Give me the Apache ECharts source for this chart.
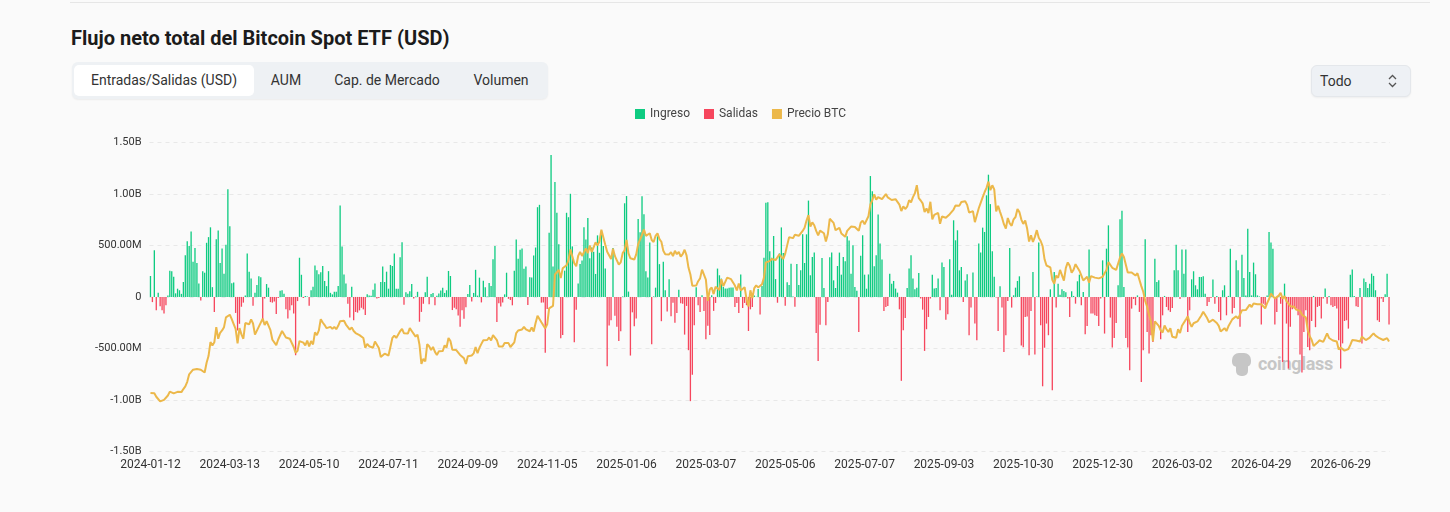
<!DOCTYPE html>
<html>
<head>
<meta charset="utf-8">
<script src="https://cdn.jsdelivr.net/npm/echarts@6/dist/echarts.min.js"></script>
<style>
  html, body { margin: 0; padding: 0; background: #fafafa; }
  body { width: 1450px; height: 512px; position: relative; overflow: hidden; font-family: Roboto, "Noto Sans", sans-serif; color: #222; }
  .topline { position: absolute; left: 70px; top: 2px; width: 1360px; height: 1px; background: #e6e6e6; }
  .title { position: absolute; left: 71px; top: 25px; font-size: 20px; line-height: 26px; font-weight: 700; color: #1b1b1b; }
  .tabs { position: absolute; left: 72px; top: 62px; width: 476px; height: 37px; background: #eef1f4; border-radius: 6px; box-shadow: 0 1px 2px rgba(0,0,0,0.06); }
  .tab-on { position: absolute; left: 2px; top: 3px; width: 180px; height: 31px; background: #fff; border-radius: 5px; }
  .tab { position: absolute; top: 0; line-height: 37px; font-size: 14px; color: #333; transform: translateX(-50%); white-space: nowrap; }
  .select { position: absolute; left: 1311px; top: 65px; width: 98px; height: 30px; background: #eef1f5; border: 1px solid #e4e7eb; border-radius: 6px; box-shadow: 0 1px 2px rgba(0,0,0,0.05); }
  .select span { position: absolute; left: 8px; top: 0; line-height: 30px; font-size: 14px; color: #333; }
  .select svg { position: absolute; right: 13px; top: 8px; }
  .mark { position: absolute; left: 1231px; top: 351px; color: #c6c6c6; font-weight: 700; font-size: 18px; line-height: 26px; letter-spacing: -0.3px; }
  .mark b { display: inline-block; position: relative; width: 21px; height: 26px; vertical-align: -7px; margin-right: 6px; }
  .mark b:before { content: ""; position: absolute; left: 1px; top: 2px; width: 19px; height: 14px; background: #c6c6c6; border-radius: 7px 7px 5px 5px; }
  .mark b:after { content: ""; position: absolute; left: 5px; top: 13px; width: 12px; height: 12px; background: #c6c6c6; border-radius: 3px 3px 5px 5px; }
  #chart { position: absolute; left: 0; top: 0; width: 1450px; height: 512px; }
</style>
</head>
<body>
<div class="topline"></div>
<div class="title">Flujo neto total del Bitcoin Spot ETF (USD)</div>
<div class="tabs">
  <div class="tab-on"></div>
  <div class="tab" style="left:92px">Entradas/Salidas (USD)</div>
  <div class="tab" style="left:214px">AUM</div>
  <div class="tab" style="left:315px">Cap. de Mercado</div>
  <div class="tab" style="left:429px">Volumen</div>
</div>
<div class="select"><span>Todo</span>
  <svg width="9" height="14" viewBox="0 0 9 14"><path d="M1 5 L4.5 1.5 L8 5 M1 9 L4.5 12.5 L8 9" fill="none" stroke="#555" stroke-width="1.3"/></svg>
</div>
<div class="mark"><b></b>coinglass</div>
<div id="chart"></div>
<script>
// trading days start here, US market holidays are skipped
var firstDay = "2024-01-12";
var holidays = [
  "2024-01-15", "2024-02-19", "2024-03-29", "2024-05-27", "2024-06-19", "2024-07-04",
  "2024-09-02", "2024-11-28", "2024-12-25", "2025-01-01", "2025-01-09", "2025-01-20",
  "2025-02-17", "2025-04-18", "2025-05-26", "2025-06-19", "2025-07-04", "2025-09-01",
  "2025-11-27", "2025-12-25", "2026-01-01", "2026-01-19", "2026-02-16", "2026-04-03",
  "2026-05-25", "2026-06-19", "2026-07-03"
];

// daily net flow, millions of USD
var netFlowM = [
  203, -50, 452, -130, 40, -90, -130, -160, -80, 15,
  255, 250, 195, 35, 80, 65, 30, 145, 405, 540,
  495, 635, 340, 475, 330, 130, -35, 250, 235, 525,
  580, 675, 95, -145, 560, 645, 330, 470, 225, 505,
  1045, 685, 132, 140, -155, -325, -260, -95, -55, 15,
  420, 245, 180, -85, 40, 115, 200, 190, -215, -15,
  125, 90, -50, -55, -45, -165, -10, 60, 65, 30,
  -120, -210, -130, -80, -160, -565, -40, 380, 215, -10,
  10, 5, -85, 65, 100, 305, 260, 220, 240, 300,
  155, 105, 250, 40, 25, 50, 50, 105, 887, 490,
  217, 130, -65, -200, 100, -226, -146, -152, -130, -105,
  -120, -175, 25, 15, 12, 70, 130, -15, -10, 145,
  295, 145, 245, 80, 310, 300, 420, 80, 80, 385,
  530, -75, 45, 30, 55, 125, -15, 5, 50, -240,
  -145, -65, 45, 195, -70, 28, 39, -81, 11, 33,
  62, 88, 39, 65, 252, 203, -127, -105, -120, -180,
  -288, -130, -211, -100, 29, 117, -44, 39, 263, 13,
  187, -53, 158, 93, 5, 136, 106, 365, 494, -242,
  -61, -92, -54, 25, 235, -18, -30, -81, 253, 556,
  371, 458, 470, 274, 294, -79, 192, 188, 402, 479,
  870, 893, -55, -55, -541, -117, 622, 1376, 294, 1114,
  817, 510, -401, -370, 255, 816, 773, 1000, 490, -438,
  -123, 130, 320, 353, 676, 556, 766, 375, 479, 438,
  223, 597, 428, 637, 493, 275, -672, -277, -226, 475,
  -183, -288, -426, -333, 5, 908, 978, 52, -568, -149,
  -284, -209, 755, 626, 975, 802, 248, 188, 527, -458,
  5, 90, 588, 318, -235, 340, 66, -140, 171, -186,
  -56, -251, -156, 70, -60, -65, -365, -87, -516, -1010,
  -755, -275, 94, -80, -145, 16, -135, -410, -280, -370,
  16, -135, -58, 275, 210, 178, 97, 81, 81, 90,
  91, 91, -97, -58, -155, 218, -107, -58, -80, -330,
  -120, -97, 15, 2, 76, -169, 107, 381, 912, 917,
  442, 380, 591, 173, -56, 422, 674, 425, -86, 142,
  117, 321, 5, -96, 319, 115, 260, 608, 329, 607,
  934, 210, 387, 430, -350, -620, -270, 378, 87, -275,
  -50, 384, 430, 161, 87, 300, 430, 216, 387, 345,
  588, 546, 226, 500, 97, 60, -340, 400, 598, 216,
  80, 218, 1172, 1024, 297, 403, 800, 517, 362, -136,
  -97, -87, 226, 129, 155, 81, 42, -120, -813, -323,
  -204, 87, 275, 404, 178, 74, 90, 232, -15, -123,
  -523, -313, -194, -15, 216, 81, 87, 178, -129, 333,
  291, -220, -168, 365, 22, 743, 549, 646, 258, 291,
  -50, 160, 220, -371, -103, 236, -258, -420, 517, 430,
  672, 630, 985, 1185, 900, 442, 197, -5, -330, 103,
  -103, -533, -371, -40, 475, -103, 16, 90, 155, 200,
  -470, -488, -194, -190, -566, -136, 242, -559, 5, 527,
  -275, -866, -492, -258, -371, 74, -904, 242, -103, 129,
  22, 74, 58, 45, -15, -194, 55, 10, -65, 152,
  216, -80, 48, -362, -281, 459, -161, -161, -178, -184,
  -281, -15, 355, -355, 468, 694, -200, -491, -397, -252,
  113, 752, 836, 97, -397, -491, -710, -113, -20, -80,
  15, -145, -824, -516, 559, -340, -549, -371, -436, 371,
  145, 161, -410, -178, 10, -97, -129, -145, -107, 258,
  507, 258, -20, 459, 226, 459, -340, -129, 171, 249,
  113, 74, 194, 194, 200, 30, -87, -48, -10, 168,
  -65, 10, -145, -226, 65, 113, -178, 10, 468, -161,
  -107, 355, 258, -290, 410, 184, 15, 662, 242, 15,
  333, 220, 15, 5, -268, -65, -80, 15, 630, 527,
  468, -268, -145, 10, -65, -630, 129, -258, -694, -290,
  -120, -113, -113, -178, -559, -733, -340, -129, -485, -516,
  -233, 10, -293, -97, -87, -210, -15, 81, -65, 10,
  -80, -97, -87, -113, -420, -694, -450, -233, -226, -307,
  216, 265, 10, -90, -97, 87, -450, 178, 145, 87,
  129, 226, 204, 65, -226, -242, -15, -48, 26, 226,
  -268
];

// BTC close, thousands of USD
var btcPriceK = [
  42.8, 43.1, 42.7, 41.3, 41.6, 39.5, 39.8, 40.1, 39.9, 41.8,
  43.3, 42.9, 42.6, 43.1, 43.2, 42.6, 43.1, 44.3, 45.3, 47.1,
  50.0, 49.7, 51.8, 51.9, 52.1, 52.3, 51.8, 51.3, 50.7, 54.5,
  57.1, 62.5, 61.2, 62.4, 68.3, 63.8, 66.1, 67.0, 68.3, 72.1,
  71.5, 73.1, 71.4, 69.5, 67.6, 62.0, 67.9, 65.5, 63.8, 69.9,
  69.9, 69.4, 71.3, 69.7, 65.4, 65.9, 68.5, 67.8, 71.6, 69.1,
  70.6, 70.0, 67.1, 63.4, 63.8, 61.3, 63.5, 63.8, 66.8, 66.4,
  64.3, 64.5, 63.8, 63.4, 60.6, 58.3, 59.1, 62.9, 63.2, 62.3,
  61.2, 63.1, 60.8, 62.9, 61.6, 66.3, 65.2, 67.0, 71.4, 70.1,
  69.1, 67.9, 68.5, 68.4, 67.6, 68.4, 67.5, 68.8, 70.6, 71.1,
  70.8, 69.3, 69.6, 67.3, 68.2, 66.8, 66.0, 66.5, 65.2, 64.9,
  64.1, 60.3, 61.8, 60.9, 61.6, 60.3, 62.7, 62.0, 60.2, 56.7,
  56.7, 58.0, 57.7, 57.3, 57.9, 64.1, 65.0, 64.1, 63.9, 66.7,
  67.6, 65.9, 65.4, 65.8, 67.9, 66.8, 66.2, 64.6, 65.4, 61.5,
  54.0, 56.0, 55.0, 61.7, 60.9, 59.4, 60.6, 58.7, 57.5, 58.9,
  59.5, 59.0, 61.2, 60.4, 64.1, 62.9, 59.5, 59.0, 59.4, 59.1,
  57.5, 58.0, 56.2, 54.0, 57.0, 57.6, 57.3, 58.1, 60.6, 58.2,
  60.3, 61.8, 63.2, 63.0, 63.3, 64.3, 63.1, 65.2, 65.8, 63.3,
  60.8, 60.6, 60.8, 62.1, 62.2, 62.1, 60.6, 60.3, 62.4, 66.0,
  67.0, 67.6, 67.4, 68.4, 67.4, 67.4, 66.7, 68.2, 66.6, 69.9,
  72.7, 72.3, 70.2, 69.5, 67.8, 69.4, 75.6, 75.9, 76.5, 88.7,
  88.2, 90.5, 87.3, 91.1, 90.5, 92.3, 94.3, 98.4, 98.9, 93.1,
  91.9, 95.9, 97.5, 95.9, 96.0, 98.8, 97.0, 99.9, 97.4, 96.7,
  101.2, 100.0, 101.5, 106.1, 106.1, 100.2, 97.5, 97.8, 94.7, 98.7,
  95.8, 94.2, 92.6, 93.4, 97.0, 98.1, 102.1, 96.9, 95.0, 94.5,
  94.5, 96.5, 100.5, 99.9, 104.1, 106.1, 103.7, 104.0, 104.7, 102.1,
  101.3, 103.7, 104.7, 102.4, 101.4, 97.9, 96.6, 96.6, 96.5, 97.4,
  95.8, 97.9, 96.6, 97.5, 95.6, 96.6, 98.3, 96.1, 91.4, 88.7,
  84.3, 84.7, 84.4, 86.1, 87.2, 90.6, 89.9, 86.7, 78.5, 82.9,
  83.7, 81.1, 84.0, 84.1, 82.7, 86.9, 84.2, 84.1, 87.5, 87.5,
  86.9, 87.2, 84.4, 82.5, 85.2, 82.5, 83.1, 83.8, 79.2, 76.3,
  82.6, 79.6, 83.4, 84.5, 83.7, 84.0, 84.9, 87.5, 93.4, 93.7,
  93.9, 94.7, 95.0, 94.3, 94.2, 96.5, 96.9, 94.7, 96.8, 97.0,
  103.2, 102.9, 102.8, 104.1, 103.5, 103.7, 103.5, 105.6, 106.8, 109.6,
  111.7, 107.3, 108.9, 107.8, 105.6, 103.9, 105.7, 105.8, 104.7, 101.5,
  104.3, 110.3, 110.2, 108.7, 105.9, 106.1, 106.8, 104.6, 104.9, 103.3,
  105.6, 106.0, 107.3, 107.0, 107.1, 107.1, 105.7, 108.8, 109.6, 108.2,
  108.9, 111.3, 115.9, 117.5, 119.8, 117.7, 118.7, 119.3, 117.9, 117.4,
  119.9, 118.6, 118.3, 117.6, 118.0, 117.9, 117.8, 115.8, 113.3, 115.1,
  114.1, 115.0, 117.5, 116.7, 118.7, 120.2, 123.3, 118.3, 117.4, 116.3,
  112.9, 114.3, 112.5, 116.9, 110.1, 111.8, 111.2, 112.6, 108.4, 111.2,
  111.7, 110.7, 110.7, 112.1, 111.5, 113.9, 115.5, 116.1, 115.4, 116.8,
  116.5, 117.1, 115.7, 112.7, 112.0, 113.3, 109.0, 109.7, 114.4, 114.0,
  118.6, 120.6, 122.3, 124.7, 121.4, 123.3, 121.7, 113.2, 115.3, 113.0,
  110.8, 108.2, 106.5, 110.6, 108.5, 107.6, 110.1, 111.0, 114.1, 112.9,
  110.0, 108.3, 109.6, 106.5, 101.5, 103.9, 101.3, 103.3, 105.9, 103.0,
  101.7, 99.7, 94.6, 92.2, 92.9, 91.5, 86.6, 85.1, 88.3, 87.4,
  90.5, 91.0, 86.3, 91.3, 93.4, 92.1, 89.4, 90.6, 92.7, 92.0,
  90.2, 90.3, 86.4, 86.6, 87.8, 85.5, 88.1, 88.5, 87.5, 87.3,
  87.2, 87.1, 87.8, 87.6, 90.5, 93.5, 93.6, 91.3, 91.2, 90.5,
  91.2, 95.3, 96.9, 95.5, 95.5, 89.5, 89.8, 89.5, 89.3, 88.3,
  89.2, 89.3, 84.2, 82.0, 78.5, 76.2, 73.0, 70.5, 62.9, 70.5,
  70.2, 68.8, 67.0, 66.2, 68.9, 67.5, 66.4, 67.9, 64.6, 63.9,
  64.2, 67.5, 66.0, 68.8, 68.3, 71.2, 72.5, 70.0, 68.4, 69.8,
  70.2, 70.5, 71.2, 72.8, 74.3, 73.9, 71.8, 70.2, 70.6, 71.2,
  70.8, 69.9, 68.8, 66.6, 66.9, 67.9, 66.8, 68.6, 69.2, 71.3,
  71.2, 72.5, 71.6, 72.2, 74.8, 74.3, 74.9, 75.5, 77.0, 76.1,
  77.5, 78.1, 77.2, 77.6, 77.2, 76.4, 75.6, 77.6, 79.2, 81.3,
  80.8, 79.4, 80.1, 80.5, 81.6, 79.3, 80.3, 78.4, 77.5, 76.4,
  77.0, 76.2, 75.1, 75.7, 74.6, 73.1, 72.8, 72.1, 67.1, 64.8,
  63.4, 61.0, 61.6, 62.3, 63.2, 62.8, 62.6, 64.2, 65.9, 64.1,
  63.6, 63.1, 62.4, 62.7, 59.6, 60.4, 60.1, 59.2, 58.5, 59.8,
  61.4, 63.3, 62.6, 63.1, 63.5, 62.7, 64.6, 64.0, 63.3, 63.6,
  64.2, 65.1, 65.9, 65.0, 64.5, 64.0, 63.8, 63.3, 63.7, 64.0,
  62.7
];

var seriesNames = ["Ingreso", "Salidas", "Precio BTC"];
var colors = ["#0ECB81", "#F6465D", "#ECB84A"];

function tradingDays(start, count) {
  var out = [];
  var d = new Date(start + "T00:00:00Z");
  while (out.length < count) {
    var s = d.toISOString().slice(0, 10);
    var wd = d.getUTCDay();
    if (wd !== 0 && wd !== 6 && holidays.indexOf(s) < 0) {
      out.push(s);
    }
    d.setUTCDate(d.getUTCDate() + 1);
  }
  return out;
}

var dates = tradingDays(firstDay, netFlowM.length);
var inflow = netFlowM.map(function (v) { return v > 0 ? v : "-"; });
var outflow = netFlowM.map(function (v) { return v < 0 ? v : "-"; });

function fmtFlow(v) {
  if (v === 0) return "0";
  if (Math.abs(v) >= 1000) return (v / 1000).toFixed(2) + "B";
  return v.toFixed(2) + "M";
}

var myChart = echarts.init(document.getElementById("chart"), null, { renderer: "canvas" });

var option = {
  animation: false,
  backgroundColor: "transparent",
  textStyle: { fontFamily: "Roboto, 'Noto Sans', sans-serif" },
  legend: {
    data: seriesNames,
    left: 630,
    top: 103,
    icon: "rect",
    itemWidth: 10,
    itemHeight: 10,
    itemGap: 14,
    textStyle: { fontSize: 12, color: "#444" }
  },
  grid: { left: 149.5, right: 60, top: 142.2, bottom: 60.3 },
  xAxis: {
    type: "category",
    data: dates,
    axisLine: { show: false },
    axisTick: { show: false },
    axisLabel: { interval: 40, color: "#333", fontSize: 12, margin: 7 }
  },
  yAxis: [
    {
      type: "value",
      min: -1500,
      max: 1500,
      interval: 500,
      axisLine: { show: false },
      axisTick: { show: false },
      axisLabel: { color: "#333", fontSize: 11, margin: 8, formatter: fmtFlow },
      splitLine: { lineStyle: { color: "#e8e8e8", type: [4, 4] } }
    },
    {
      type: "value",
      min: 20,
      max: 140,
      show: false,
      splitLine: { show: false }
    }
  ],
  series: [
    {
      name: seriesNames[0],
      type: "bar",
      stack: "flow",
      data: inflow,
      barWidth: "68%",
      itemStyle: { color: colors[0] }
    },
    {
      name: seriesNames[1],
      type: "bar",
      stack: "flow",
      data: outflow,
      barWidth: "68%",
      itemStyle: { color: colors[1] }
    },
    {
      name: seriesNames[2],
      type: "line",
      yAxisIndex: 1,
      data: btcPriceK,
      symbol: "none",
      z: 5,
      lineStyle: { color: colors[2], width: 2 },
      itemStyle: { color: colors[2] }
    }
  ]
};

myChart.setOption(option);
window.addEventListener("resize", myChart.resize);
</script>
</body>
</html>
